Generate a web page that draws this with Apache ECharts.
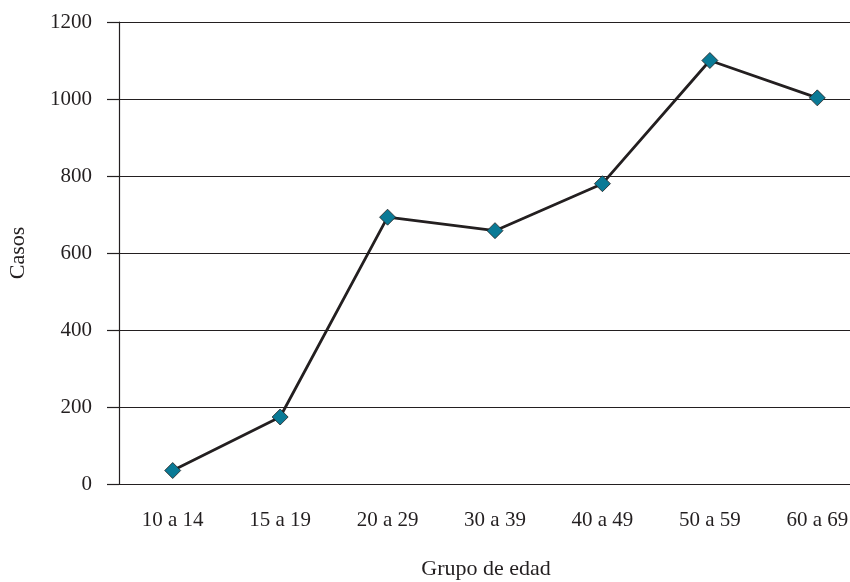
<!DOCTYPE html>
<html>
<head>
<meta charset="utf-8">
<script src="https://cdn.jsdelivr.net/npm/echarts@6/dist/echarts.min.js"></script>
<style>html,body{margin:0;padding:0;background:#fff}#c{width:850px;height:582px}</style>
</head>
<body>
<div id="c"></div>
<script>
const categories = ['10 a 14','15 a 19','20 a 29','30 a 39','40 a 49','50 a 59','60 a 69'];
const casos = [35, 174, 693, 658, 780, 1100, 1003];
const yTicks = [0, 200, 400, 600, 800, 1000, 1200];

const font = '"Liberation Serif", "DejaVu Serif", serif';
const chart = echarts.init(document.getElementById('c'), null, {renderer: 'canvas'});
chart.setOption({
  animation: false,
  backgroundColor: '#fff',
  grid: {left: 119, right: -21, top: 22, bottom: 98, containLabel: false, outerBoundsMode: 'none'},
  xAxis: {
    type: 'category',
    data: categories,
    boundaryGap: true,
    name: 'Grupo de edad',
    nameLocation: 'middle',
    nameGap: 74,
    nameTextStyle: {fontFamily: font, fontSize: 22, color: '#231f20', padding: [0, 18, 0, 0]},
    axisLine: {show: false},
    axisTick: {show: false},
    axisLabel: {fontFamily: font, fontSize: 21, color: '#231f20', margin: 26}
  },
  yAxis: {
    type: 'value',
    min: yTicks[0],
    max: yTicks[yTicks.length - 1],
    interval: 200,
    name: 'Casos',
    nameLocation: 'middle',
    nameGap: 90,
    nameRotate: 90,
    nameTextStyle: {fontFamily: font, fontSize: 22, color: '#231f20'},
    axisLine: {show: true, lineStyle: {color: '#231f20', width: 1.2}},
    axisTick: {show: true, inside: false, length: 12, lineStyle: {color: '#231f20', width: 1.2}},
    axisLabel: {fontFamily: font, fontSize: 21, color: '#231f20', margin: 27, formatter: function (v) { return String(v); }},
    splitLine: {show: true, lineStyle: {color: '#231f20', width: 1.2}}
  },
  series: [{
    type: 'line',
    data: casos,
    symbol: 'diamond',
    symbolSize: 16,
    lineStyle: {color: '#231f20', width: 2.8},
    itemStyle: {color: '#0a7a96', borderColor: '#231f20', borderWidth: 0.8},
    z: 3
  }]
});
</script>
</body>
</html>
